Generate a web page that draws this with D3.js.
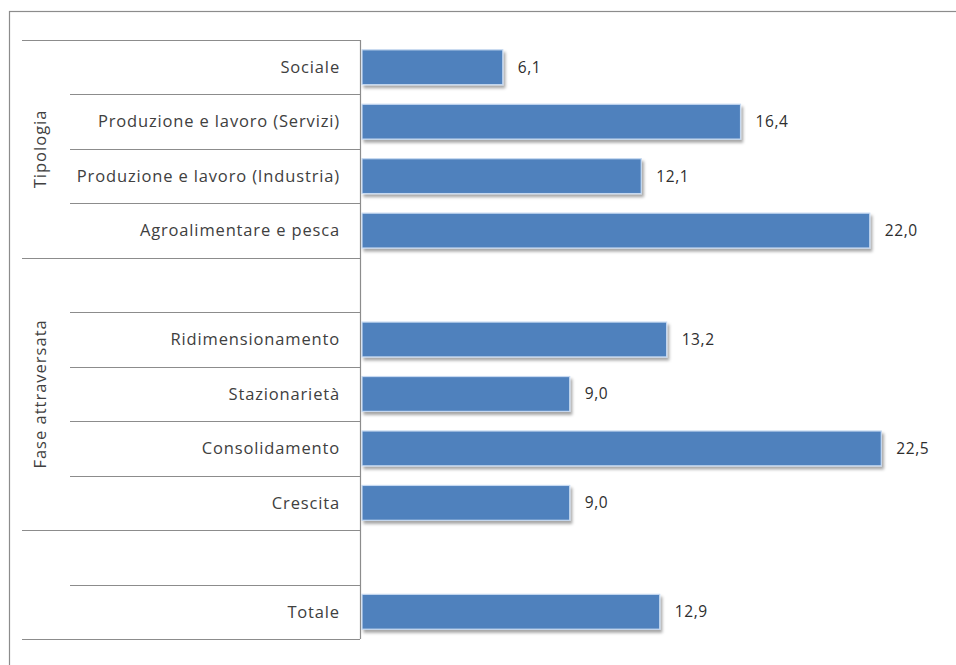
<!DOCTYPE html>
<html>
<head>
<meta charset="utf-8">
<script src="https://cdn.jsdelivr.net/npm/d3@7"></script>
<style>
  body { margin: 0; background: #fff; }
  svg { display: block; }
</style>
</head>
<body>
<svg width="956" height="665"></svg>
<script>
// categories top to bottom, blanks are empty spacer rows
const categories = [
  "Sociale",
  "Produzione e lavoro (Servizi)",
  "Produzione e lavoro (Industria)",
  "Agroalimentare e pesca",
  "",
  "Ridimensionamento",
  "Stazionarietà",
  "Consolidamento",
  "Crescita",
  "",
  "Totale"
];
const values = [6.1, 16.4, 12.1, 22.0, null, 13.2, 9.0, 22.5, 9.0, null, 12.9];
const groupNames = ["Tipologia", "Fase attraversata", ""];
// first and last row index of each group
const groupStart = [0, 4, 9];
const groupEnd = [3, 8, 10];

const width = 956;
const height = 665;
const margin = { top: 40, bottom: 26, left: 362, right: 17 };

const rows = categories.map((c, i) => ({ id: i, name: c, value: values[i] }));

const yScale = d3
  .scaleBand()
  .domain(rows.map(d => d.id))
  .range([margin.top, height - margin.bottom])
  .paddingInner(0.36)
  .paddingOuter(0.18);

const xScale = d3
  .scaleLinear()
  .domain([0, 25])
  .range([margin.left, width - margin.right]);

const svg = d3.select("svg");

// drop shadow for the bars
const defs = svg.append("defs");
const shadow = defs
  .append("filter")
  .attr("id", "shadow")
  .attr("x", "-5%")
  .attr("y", "-20%")
  .attr("width", "115%")
  .attr("height", "160%");
shadow
  .append("feDropShadow")
  .attr("dx", 2)
  .attr("dy", 3)
  .attr("stdDeviation", 1.6)
  .attr("flood-color", "#000")
  .attr("flood-opacity", 0.35);

// outer frame (cut off on the right and bottom)
svg
  .append("rect")
  .attr("x", 9.5)
  .attr("y", 11.5)
  .attr("width", width + 20)
  .attr("height", height + 20)
  .attr("fill", "none")
  .attr("stroke", "#8c8c8c")
  .attr("stroke-width", 1.2);

const step = yScale.step();
const rowTop = i => yScale(i) - (yScale.paddingInner() * step) / 2;
const rowBottom = i => rowTop(i) + step;

// separator lines between category rows
const lineYs = [];
rows.forEach((d, i) => {
  const isGroupStart = groupStart.indexOf(i) > -1;
  lineYs.push({ y: rowTop(i), long: isGroupStart });
});
lineYs.push({ y: rowBottom(rows.length - 1), long: true });

const axisX = xScale(0) - 2;

svg
  .append("g")
  .selectAll("line")
  .data(lineYs)
  .enter()
  .append("line")
  .attr("x1", d => (d.long ? 22 : 70))
  .attr("x2", axisX)
  .attr("y1", d => Math.round(d.y) + 0.5)
  .attr("y2", d => Math.round(d.y) + 0.5)
  .attr("stroke", "#8c8c8c")
  .attr("stroke-width", 1.2);

// vertical axis line
svg
  .append("line")
  .attr("x1", axisX + 0.5)
  .attr("x2", axisX + 0.5)
  .attr("y1", rowTop(0))
  .attr("y2", rowBottom(rows.length - 1))
  .attr("stroke", "#8c8c8c")
  .attr("stroke-width", 1.2);

// bars
svg
  .append("g")
  .selectAll("rect")
  .data(rows.filter(d => d.value !== null))
  .enter()
  .append("rect")
  .attr("x", xScale(0))
  .attr("y", d => yScale(d.id))
  .attr("width", d => xScale(d.value) - xScale(0))
  .attr("height", yScale.bandwidth())
  .attr("fill", "#4f81bd")
  .attr("stroke", "#c6d9f1")
  .attr("stroke-width", 1.2)
  .attr("filter", "url(#shadow)");

const fmt = v => d3.format(".1f")(v).replace(".", ",");

// value labels
svg
  .append("g")
  .selectAll("text")
  .data(rows.filter(d => d.value !== null))
  .enter()
  .append("text")
  .attr("x", d => xScale(d.value) + 15)
  .attr("y", d => yScale(d.id) + yScale.bandwidth() / 2)
  .attr("dy", "0.35em")
  .attr("font-family", "Open Sans, sans-serif")
  .attr("font-size", 15.5)
  .attr("letter-spacing", 0.6)
  .attr("fill", "#2e2e2e")
  .text(d => fmt(d.value));

// category labels
svg
  .append("g")
  .selectAll("text")
  .data(rows)
  .enter()
  .append("text")
  .attr("x", 340)
  .attr("y", d => yScale(d.id) + yScale.bandwidth() / 2)
  .attr("dy", "0.35em")
  .attr("text-anchor", "end")
  .attr("font-family", "Open Sans, sans-serif")
  .attr("font-size", 16.5)
  .attr("letter-spacing", 0.85)
  .attr("fill", "#404040")
  .text(d => d.name);

// group labels, rotated
svg
  .append("g")
  .selectAll("text")
  .data(groupNames.map((g, i) => ({ name: g, i: i })))
  .enter()
  .append("text")
  .attr("transform", d => {
    const cy = (rowTop(groupStart[d.i]) + rowBottom(groupEnd[d.i])) / 2;
    return `translate(40, ${cy}) rotate(-90)`;
  })
  .attr("dy", "0.35em")
  .attr("text-anchor", "middle")
  .attr("font-family", "Open Sans, sans-serif")
  .attr("font-size", 16.5)
  .attr("letter-spacing", 1)
  .attr("fill", "#404040")
  .text(d => d.name);
</script>
</body>
</html>
